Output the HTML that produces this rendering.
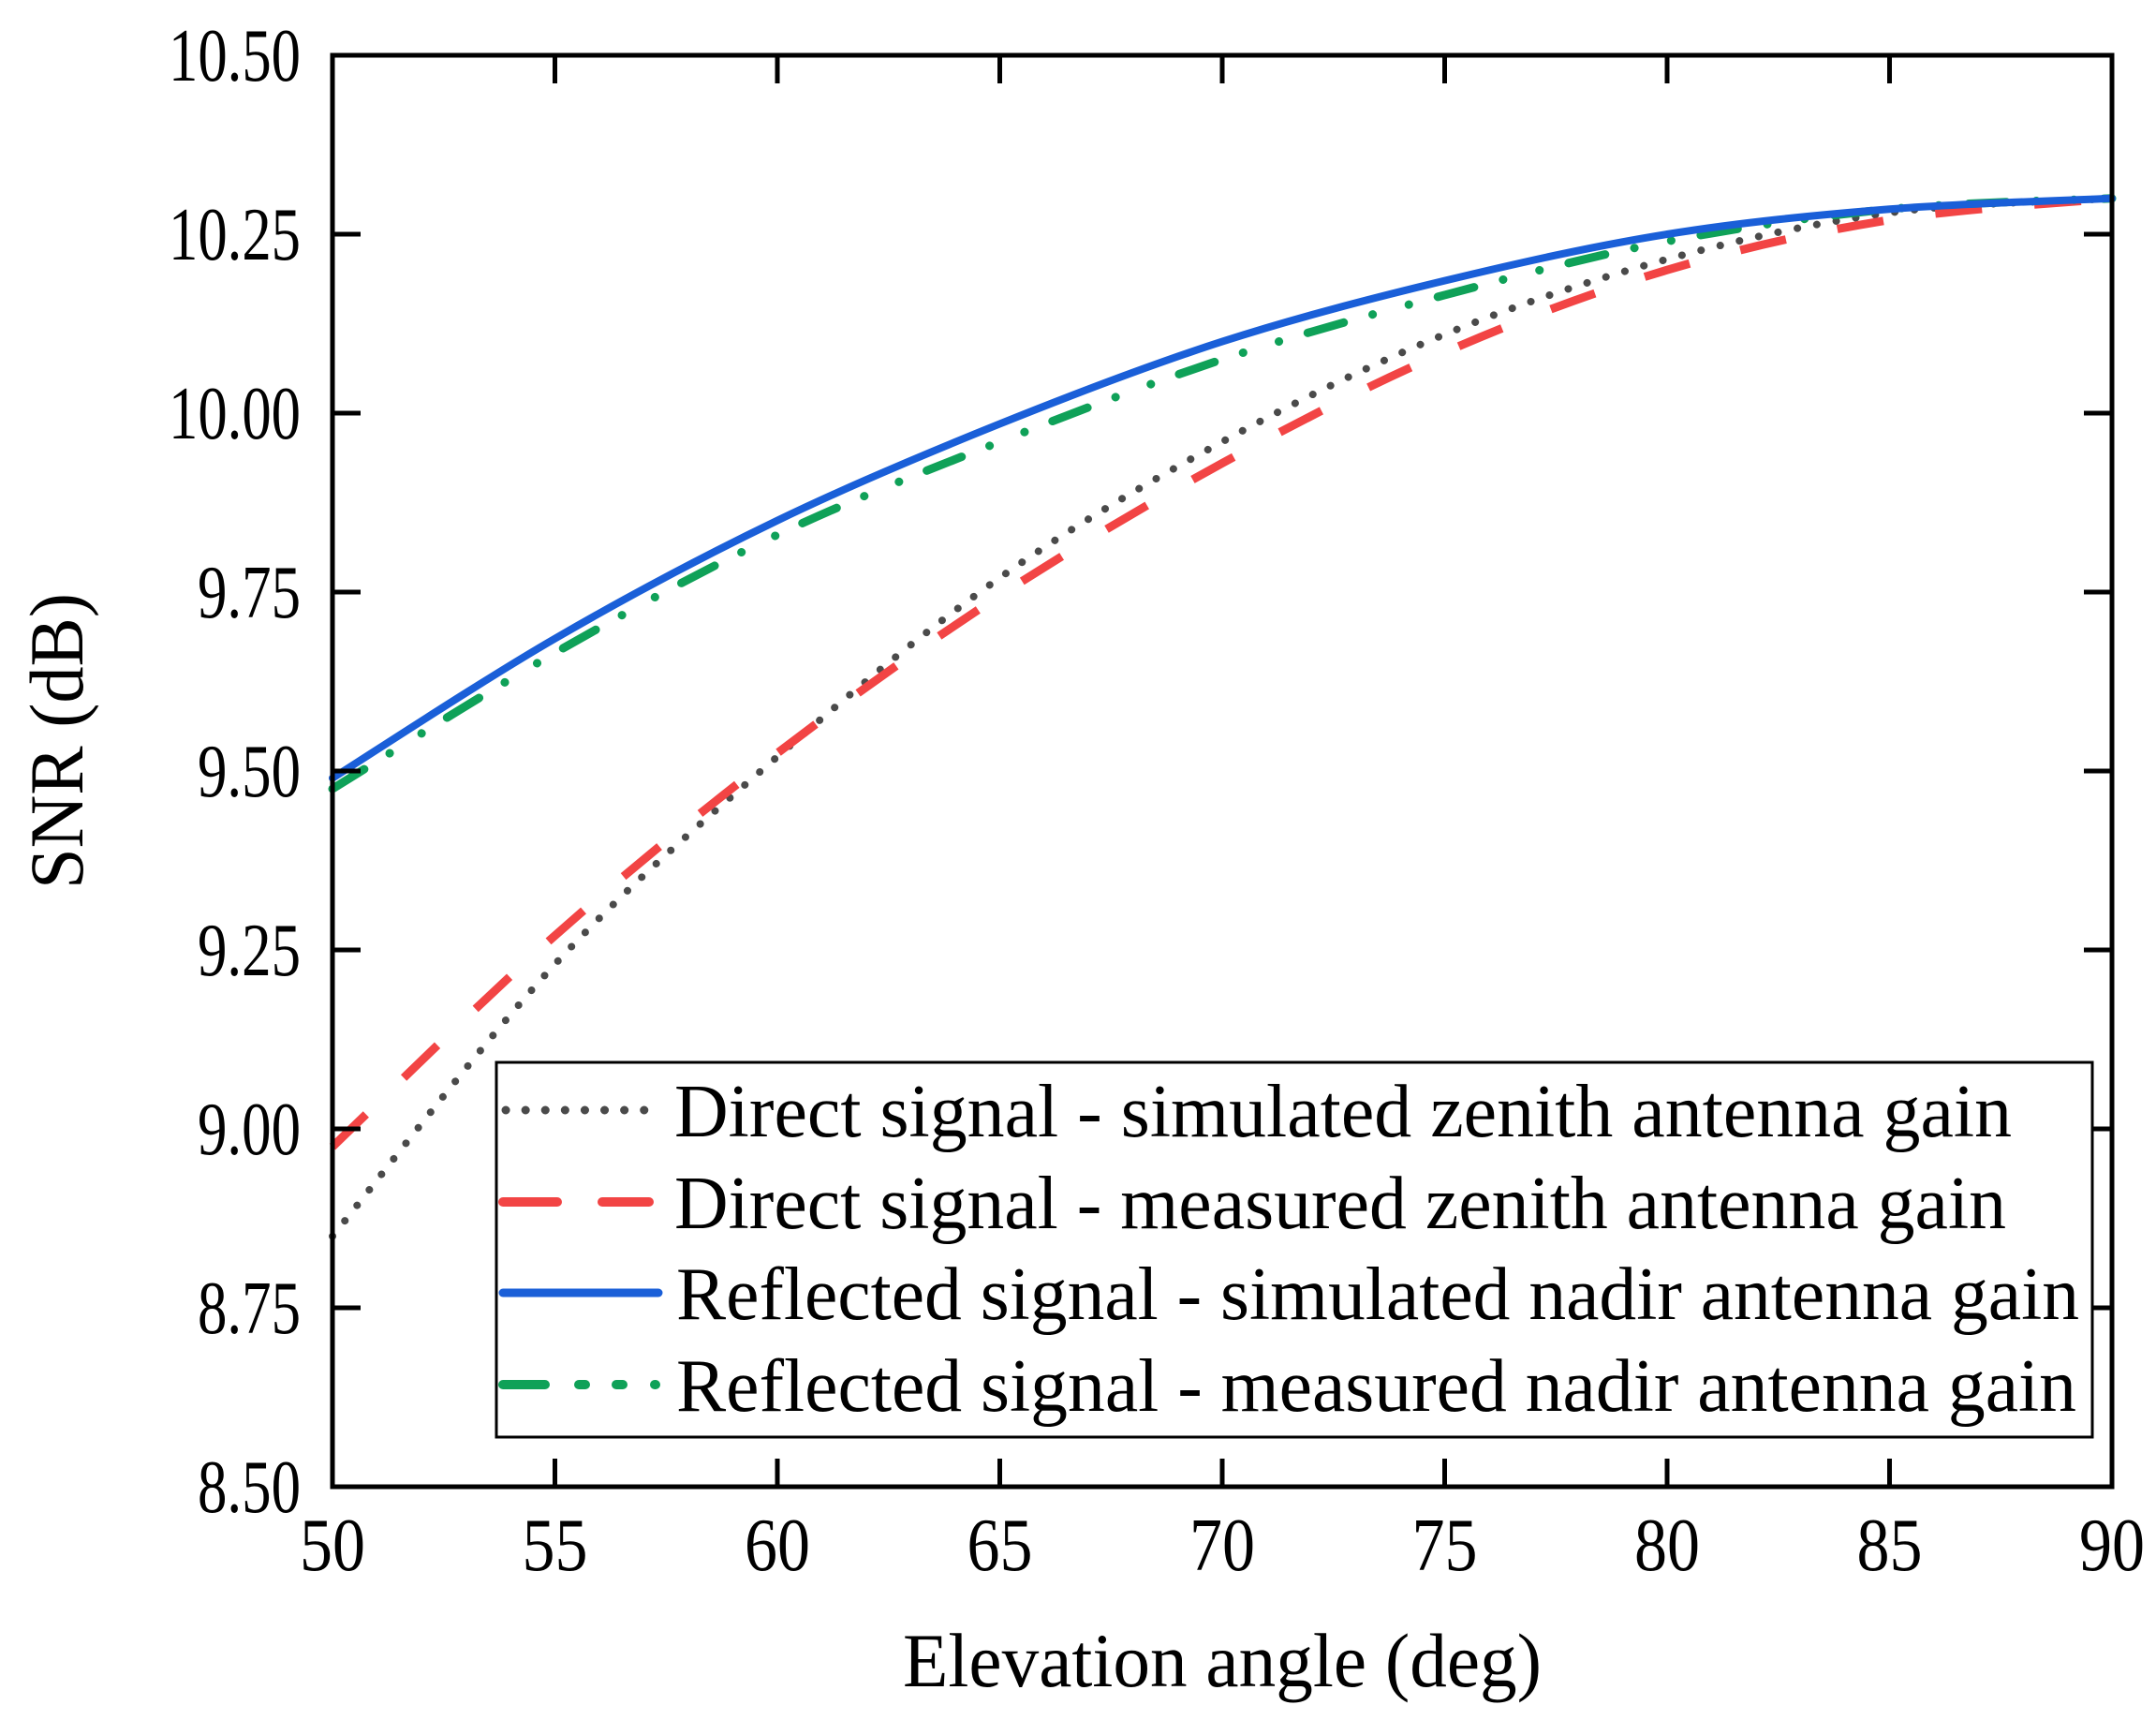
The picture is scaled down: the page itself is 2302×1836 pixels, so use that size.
<!DOCTYPE html>
<html><head><meta charset="utf-8"><style>
html,body{margin:0;padding:0;background:#fff}
svg{display:block}
text{font-family:"Liberation Serif",serif;fill:#000}
</style></head><body>
<svg id="s" width="2302" height="1836" viewBox="0 0 2302 1836" xmlns="http://www.w3.org/2000/svg">
<rect width="2302" height="1836" fill="#fff"/>
<g id="curves" fill="none" stroke-linecap="round"></g>
<g id="ticks" stroke="#000" stroke-width="5"></g>
<rect x="355" y="59" width="1900" height="1528" fill="none" stroke="#000" stroke-width="5"/>
<g font-size="80" text-anchor="end">
<text x="321" y="86" textLength="141" lengthAdjust="spacingAndGlyphs">10.50</text>
<text x="321" y="277" textLength="141" lengthAdjust="spacingAndGlyphs">10.25</text>
<text x="321" y="468" textLength="141" lengthAdjust="spacingAndGlyphs">10.00</text>
<text x="321" y="659" textLength="110" lengthAdjust="spacingAndGlyphs">9.75</text>
<text x="321" y="850" textLength="110" lengthAdjust="spacingAndGlyphs">9.50</text>
<text x="321" y="1041" textLength="110" lengthAdjust="spacingAndGlyphs">9.25</text>
<text x="321" y="1232" textLength="110" lengthAdjust="spacingAndGlyphs">9.00</text>
<text x="321" y="1423" textLength="110" lengthAdjust="spacingAndGlyphs">8.75</text>
<text x="321" y="1614" textLength="110" lengthAdjust="spacingAndGlyphs">8.50</text>
</g>
<g font-size="80" text-anchor="middle" id="xl"></g>
<text x="1305" y="1800" font-size="82" text-anchor="middle" textLength="682" lengthAdjust="spacingAndGlyphs">Elevation angle (deg)</text>
<text transform="translate(88,791) rotate(-90)" font-size="82" text-anchor="middle" textLength="316" lengthAdjust="spacingAndGlyphs">SNR (dB)</text>
<rect x="530" y="1134" width="1704" height="400" fill="#fff" stroke="#000" stroke-width="3"/>
<g stroke-linecap="round" fill="none">
<line x1="540" y1="1185" x2="692" y2="1185" stroke="#4a4a4a" stroke-width="9" stroke-dasharray="0.1 21"/>
<line x1="537" y1="1283" x2="595" y2="1283" stroke="#f24444" stroke-width="10"/>
<line x1="643" y1="1283" x2="693" y2="1283" stroke="#f24444" stroke-width="10"/>
<line x1="537" y1="1380" x2="703" y2="1380" stroke="#1a5fd8" stroke-width="9"/>
<line x1="537" y1="1478" x2="582" y2="1478" stroke="#0fa158" stroke-width="10"/>
<line x1="618" y1="1478" x2="625" y2="1478" stroke="#0fa158" stroke-width="10"/>
<line x1="658" y1="1478" x2="665" y2="1478" stroke="#0fa158" stroke-width="10"/>
<line x1="699" y1="1478" x2="700" y2="1478" stroke="#0fa158" stroke-width="10"/>
</g>
<g font-size="80">
<text x="720" y="1213" textLength="1428" lengthAdjust="spacingAndGlyphs">Direct signal - simulated zenith antenna gain</text>
<text x="720" y="1311" textLength="1422" lengthAdjust="spacingAndGlyphs">Direct signal - measured zenith antenna gain</text>
<text x="722" y="1408" textLength="1498" lengthAdjust="spacingAndGlyphs">Reflected signal - simulated nadir antenna gain</text>
<text x="722" y="1506" textLength="1495" lengthAdjust="spacingAndGlyphs">Reflected signal - measured nadir antenna gain</text>
</g>
</svg>
<script>
var NS="http://www.w3.org/2000/svg";
function X(v){return 355+(v-50)*47.5}
function Y(v){return 59+(10.5-v)*764}
function el(p,t,a){var e=document.createElementNS(NS,t);for(var k in a)e.setAttribute(k,a[k]);p.appendChild(e);return e}
var tk=document.getElementById("ticks"),xl=document.getElementById("xl");
for(var v=50;v<=90;v+=5){var x=X(v);
 if(v>50&&v<90){el(tk,"line",{x1:x,y1:1587,x2:x,y2:1557});el(tk,"line",{x1:x,y1:59,x2:x,y2:89});}
 var t=el(xl,"text",{x:x,y:1676,textLength:70,lengthAdjust:"spacingAndGlyphs"});t.textContent=v;}
for(var i=1;i<8;i++){var y=59+i*191;el(tk,"line",{x1:355,y1:y,x2:385,y2:y});el(tk,"line",{x1:2255,y1:y,x2:2225,y2:y});}
function path(d){var p=d.map(function(q){return[X(q[0]),Y(q[1])]});var s="M"+p[0][0]+","+p[0][1];
 for(var i=0;i<p.length-1;i++){var p0=p[i-1]||p[i],p1=p[i],p2=p[i+1],p3=p[i+2]||p2;
  s+=" C"+(p1[0]+(p2[0]-p0[0])/6)+","+(p1[1]+(p2[1]-p0[1])/6)+" "+(p2[0]-(p3[0]-p1[0])/6)+","+(p2[1]-(p3[1]-p1[1])/6)+" "+p2[0]+","+p2[1];}
 return s}
var xs=[50,55,60,65,70,75,80,85,90];
function z(a){return xs.map(function(x,i){return[x,a[i]]})}
var cv=document.getElementById("curves");
el(cv,"path",{d:path(z([8.85,9.23,9.52,9.77,9.96,10.11,10.215,10.28,10.30])),stroke:"#4a4a4a","stroke-width":8,"stroke-dasharray":"0.1 21"});
el(cv,"path",{d:path(z([8.975,9.27,9.525,9.745,9.93,10.085,10.20,10.27,10.30])),stroke:"#f24444","stroke-width":9,"stroke-dasharray":"50 56","stroke-linecap":"butt"});
el(cv,"path",{d:path(z([9.475,9.665,9.83,9.96,10.075,10.165,10.24,10.285,10.30])),stroke:"#0fa158","stroke-width":9,"stroke-dasharray":"40 32 0.1 40 0.1 32"});
el(cv,"path",{d:path(z([9.49,9.685,9.85,9.985,10.10,10.185,10.25,10.285,10.30])),stroke:"#1a5fd8","stroke-width":8});
</script>
</body></html>
